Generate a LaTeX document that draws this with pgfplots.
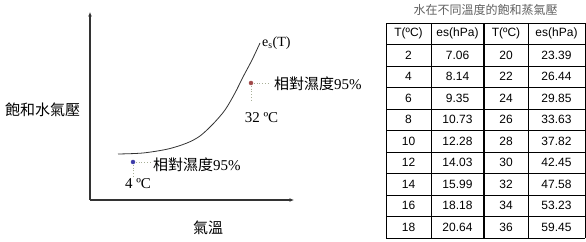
\documentclass[border=0pt]{standalone}
\usepackage{pgfplots}
\pgfplotsset{compat=1.18}
\usepackage{pgfplotstable}
\usetikzlibrary{arrows.meta}
\usepackage{fontspec}
\setmainfont{Liberation Serif}
\newfontfamily\cjk{Noto Sans CJK TC}
\newfontfamily\arial{Liberation Sans}
\definecolor{axgray}{HTML}{333333}
\definecolor{dotblue}{HTML}{3A3AA8}
\definecolor{dotred}{HTML}{A04848}
\definecolor{dotline}{HTML}{A8B098}
\newcommand\lbl{\fontsize{15bp}{18bp}\selectfont}
\newcommand\tabfont{\arial\fontsize{12bp}{14bp}\selectfont}

\pgfplotstableread{
T es Tb esb
2 7.06 20 23.39
4 8.14 22 26.44
6 9.35 24 29.85
8 10.73 26 33.63
10 12.28 28 37.82
12 14.03 30 42.45
14 15.99 32 47.58
16 18.18 34 53.23
18 20.64 36 59.45
}\satdata

\begin{document}
\begin{tikzpicture}
\useasboundingbox (0,0) rectangle (586bp,242bp);
% ---------------- schematic curve ----------------
\begin{axis}[
  at={(90bp,42bp)}, anchor=south west,
  scale only axis, width=204bp, height=188bp,
  xmin=0, xmax=204, ymin=0, ymax=188,
  axis lines=left,
  axis line style={color=axgray, line width=1.3bp, -{Latex[length=4.5bp,width=4bp]}},
  xtick=\empty, ytick=\empty,
  clip=false,
]
\addplot[smooth, color=axgray, line width=0.8bp] coordinates {
  (28,46) (53,47) (78,51) (97,57) (110,64) (123,76) (135,90)
  (145,107) (153,123) (162,140) (170,157)
};
\addplot[dotted, color=dotline, line width=0.8bp] coordinates {(43,38) (60,38)};
\addplot[dotted, color=dotline, line width=0.8bp] coordinates {(43,38) (43,22)};
\addplot[dotted, color=dotline, line width=0.8bp] coordinates {(161,117) (180,117)};
\addplot[dotted, color=dotline, line width=0.8bp] coordinates {(161,117) (161,100)};
\addplot[only marks, mark=*, mark size=2bp, color=dotblue] coordinates {(43,38)};
\addplot[only marks, mark=*, mark size=2bp, color=dotred] coordinates {(161,117)};
\node[anchor=west, inner sep=0] at (axis cs:63,35) {\lbl{\cjk 相對濕度}95\%};
\node[inner sep=0] at (axis cs:48,16) {\lbl 4 ºC};
\node[anchor=west, inner sep=0] at (axis cs:184,116) {\lbl{\cjk 相對濕度}95\%};
\node[inner sep=0] at (axis cs:171.5,82) {\lbl 32 ºC};
\node[anchor=west, inner sep=0] at (axis cs:172,157) {\fontsize{14bp}{16bp}\selectfont e\textsubscript{s}(T)};
\end{axis}
\node[inner sep=0] at (42.5bp,132bp) {\lbl\cjk 飽和水氣壓};
\node[inner sep=0] at (208bp,14bp) {\lbl\cjk 氣溫};
% ---------------- table ----------------
\node[inner sep=0, text=black!62] at (485.5bp,232bp) {\cjk\fontsize{12bp}{14bp}\selectfont 水在不同溫度的飽和蒸氣壓};
\begin{axis}[
  at={(386bp,4bp)}, anchor=south west,
  scale only axis, width=199bp, height=215bp,
  xmin=0, xmax=199, ymin=0, ymax=10,
  hide axis, clip=false,
  every node near coord/.append style={anchor=center, inner sep=0pt, font=\tabfont, text=black},
]
\foreach \r in {0,...,10} {
  \edef\tmp{\noexpand\draw[black, line width=0.9bp] (axis cs:0,\r) -- (axis cs:199,\r);}\tmp
}
\draw[black, line width=0.9bp] (axis cs:0,0) -- (axis cs:0,10);
\draw[black, line width=0.9bp] (axis cs:45,0) -- (axis cs:45,10);
\draw[black, line width=1.6bp] (axis cs:98,0) -- (axis cs:98,10);
\draw[black, line width=0.9bp] (axis cs:142,0) -- (axis cs:142,10);
\draw[black, line width=0.9bp] (axis cs:199,0) -- (axis cs:199,10);
\node[inner sep=0, font=\tabfont] at (axis cs:22.5,9.5) {T(ºC)};
\node[inner sep=0, font=\tabfont] at (axis cs:71.5,9.5) {es(hPa)};
\node[inner sep=0, font=\tabfont] at (axis cs:120,9.5) {T(ºC)};
\node[inner sep=0, font=\tabfont] at (axis cs:170.5,9.5) {es(hPa)};
\addplot[only marks, mark=none, nodes near coords, point meta=explicit symbolic]
  table[x expr=22.5, y expr=8.5-\coordindex, meta=T] {\satdata};
\addplot[only marks, mark=none, nodes near coords, point meta=explicit symbolic]
  table[x expr=71.5, y expr=8.5-\coordindex, meta=es] {\satdata};
\addplot[only marks, mark=none, nodes near coords, point meta=explicit symbolic]
  table[x expr=120, y expr=8.5-\coordindex, meta=Tb] {\satdata};
\addplot[only marks, mark=none, nodes near coords, point meta=explicit symbolic]
  table[x expr=170.5, y expr=8.5-\coordindex, meta=esb] {\satdata};
\end{axis}
\end{tikzpicture}
\end{document}
